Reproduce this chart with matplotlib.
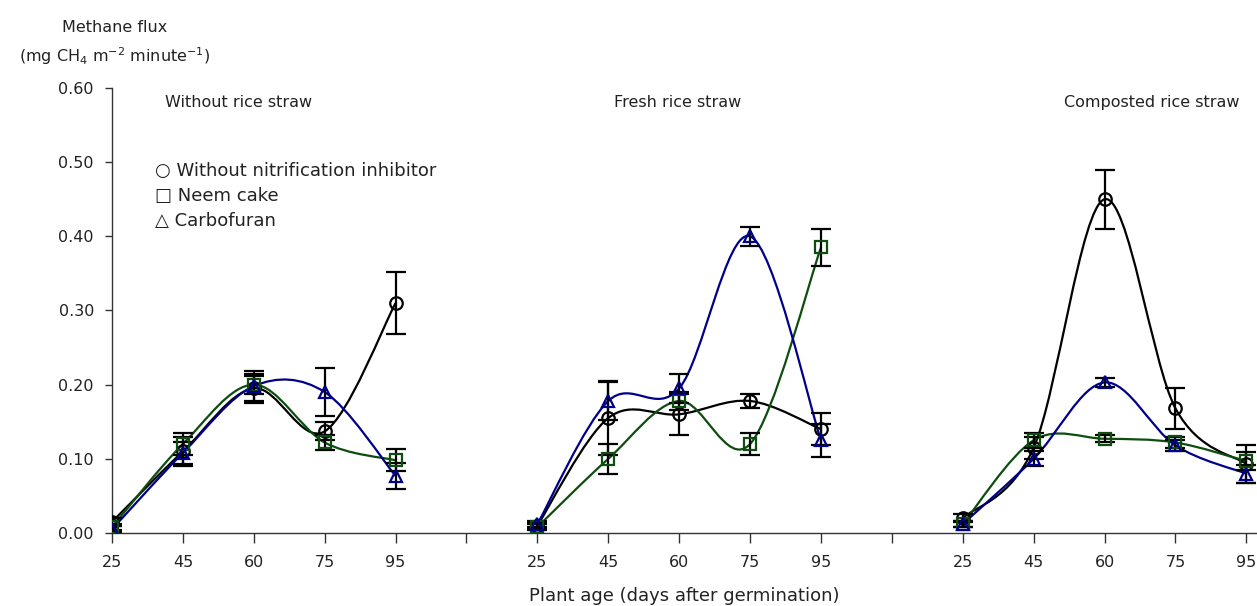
import matplotlib
matplotlib.use("Agg")
import matplotlib.pyplot as plt
from matplotlib.path import Path
from matplotlib.patches import PathPatch
import numpy as np

plt.rcParams['font.family'] = ['DejaVu Sans']
plt.rcParams['mathtext.fontset'] = 'dejavusans'

days = ['25', '45', '60', '75', '95']
groups = ['Without rice straw', 'Fresh rice straw', 'Composted rice straw']
treatments = ['Without nitrification inhibitor', 'Neem cake', 'Carbofuran']

# methane flux per group, 5 values each (25, 45, 60, 75, 95 days)
without_ni = [[0.015, 0.110, 0.195, 0.137, 0.310],
              [0.010, 0.155, 0.160, 0.178, 0.140],
              [0.020, 0.115, 0.450, 0.168, 0.093]]
without_ni_err = [[0.005, 0.020, 0.020, 0.012, 0.042],
                  [0.004, 0.050, 0.028, 0.010, 0.022],
                  [0.005, 0.015, 0.040, 0.028, 0.025]]
neem = [[0.008, 0.120, 0.200, 0.122, 0.098],
        [0.008, 0.100, 0.178, 0.120, 0.385],
        [0.012, 0.125, 0.127, 0.122, 0.097]]
neem_err = [[0.004, 0.015, 0.012, 0.010, 0.015],
            [0.004, 0.020, 0.012, 0.015, 0.025],
            [0.004, 0.010, 0.005, 0.008, 0.012]]
carbo = [[0.005, 0.108, 0.198, 0.190, 0.077],
         [0.012, 0.178, 0.195, 0.400, 0.125],
         [0.012, 0.100, 0.203, 0.118, 0.080]]
carbo_err = [[0.004, 0.015, 0.020, 0.032, 0.018],
             [0.004, 0.025, 0.020, 0.013, 0.022],
             [0.004, 0.010, 0.006, 0.008, 0.012]]

colors = ['black', '#0d4d0d', '#00008b']
markers = ['o', 's', '^']
txt = '#222222'


def smooth_path(xs, ys):
    # bezier segments through the points (Excel-style smoothed line)
    pts = np.column_stack([xs, ys])
    verts = [pts[0]]
    codes = [Path.MOVETO]
    n = len(pts)
    for i in range(n - 1):
        p0 = pts[max(i - 1, 0)]
        p1 = pts[i]
        p2 = pts[i + 1]
        p3 = pts[min(i + 2, n - 1)]
        c1 = p1 + (p2 - p0) / 6
        c2 = p2 - (p3 - p1) / 6
        verts += [c1, c2, p2]
        codes += [Path.CURVE4] * 3
    return Path(verts, codes)


fig = plt.figure(figsize=(12.57, 6.06), dpi=100)
ax = fig.add_axes([0.0891, 0.1205, 0.9109, 0.7343])

series = [(without_ni, without_ni_err), (neem, neem_err), (carbo, carbo_err)]
for g in range(3):
    xs = np.arange(5) + g * 6
    for s, (vals, errs) in enumerate(series):
        ys = np.array(vals[g])
        ax.add_patch(PathPatch(smooth_path(xs, ys), fill=False,
                               edgecolor=colors[s], lw=1.6, zorder=2))
        ax.errorbar(xs, ys, yerr=errs[g], fmt='none', ecolor='black',
                    elinewidth=1.6, capsize=7, capthick=1.6, zorder=3)
        ax.plot(xs, ys, linestyle='none', marker=markers[s], ms=9,
                mfc='none', mec=colors[s], mew=1.6, zorder=4)

ax.set_xlim(0, 16.15)
ax.set_ylim(0, 0.6)
ticks = list(range(17))
labels = days + [''] + days + [''] + days
ax.set_xticks(ticks)
ax.set_xticklabels(labels)
ax.set_yticks(np.arange(0, 0.61, 0.1))
ax.set_yticklabels([f'{v:.2f}' for v in np.arange(0, 0.61, 0.1)])
ax.spines['top'].set_visible(False)
ax.spines['right'].set_visible(False)
for sp in ['left', 'bottom']:
    ax.spines[sp].set_color('#333333')
    ax.spines[sp].set_linewidth(1.0)
ax.tick_params(axis='x', length=7, width=1.0, colors='#333333', labelsize=11.5,
               pad=9, labelcolor=txt)
ax.tick_params(axis='y', length=5, width=1.0, colors='#333333', labelsize=11.5,
               pad=8, labelcolor=txt)
ax.set_xlabel('Plant age (days after germination)', fontsize=13,
              color=txt, labelpad=12)

fig.text(0.091, 0.955, 'Methane flux', fontsize=11.5, ha='center', va='center',
         color=txt)
fig.text(0.091, 0.908, '(mg CH$\\mathregular{_4}$ m$\\mathregular{^{-2}}$ '
         'minute$\\mathregular{^{-1}}$)', fontsize=11.5,
         ha='center', va='center', color=txt)

title_x = [1.79, 7.98, 14.67]
for g in range(3):
    ax.text(title_x[g], 0.58, groups[g], fontsize=11.5, ha='center',
            va='center', color=txt)

sym = ['\u25cb', '\u25a1', '\u25b3']
for i, t in enumerate(treatments):
    ax.text(0.6, 0.488 - i * 0.034, sym[i] + ' ' + t, fontsize=13,
            va='center', color=txt)

fig.savefig('out.png', dpi=100)
